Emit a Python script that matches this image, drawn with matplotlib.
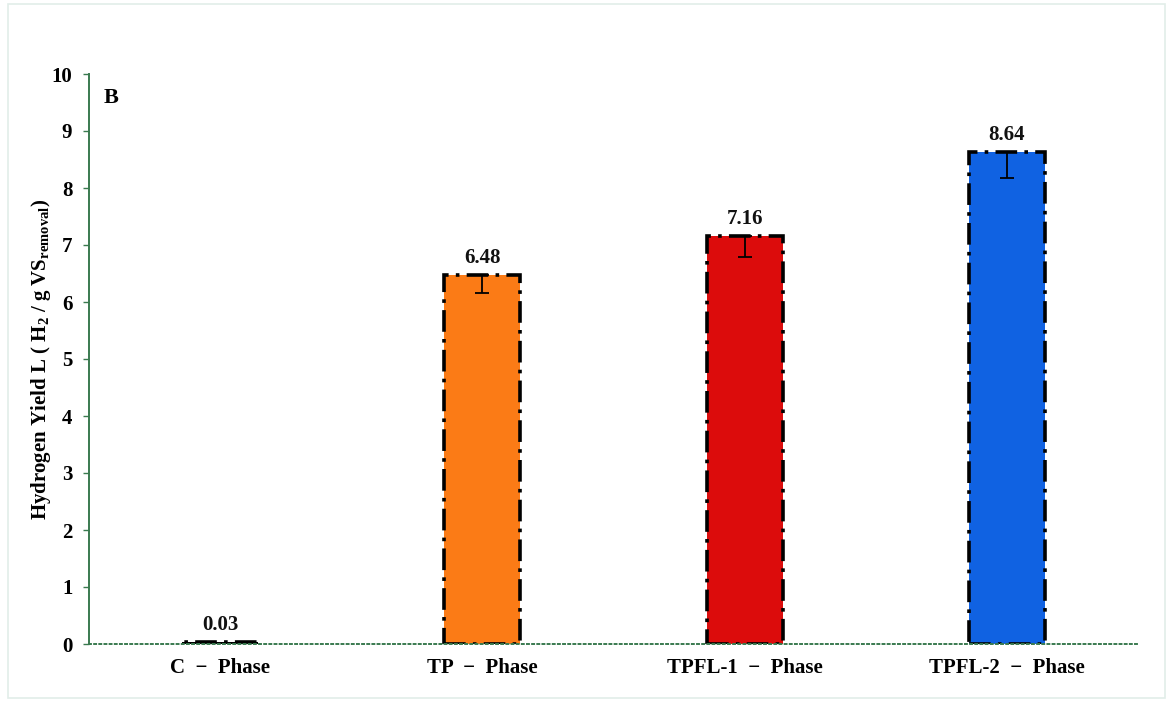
import matplotlib
matplotlib.use('Agg')
import matplotlib.pyplot as plt
from matplotlib.patches import Rectangle

# data
phases = ['C  \u2212  Phase', 'TP  \u2212  Phase', 'TPFL-1  \u2212  Phase', 'TPFL-2  \u2212  Phase']
yields = [0.03, 6.48, 7.16, 8.64]
err_lo = [0.0, 0.32, 0.37, 0.46]
err_hi = [0.0, 0.0, 0.0, 0.0]
colors = ['#000000', '#fb7b16', '#dc0c0c', '#1062e2']

plt.rcParams['font.family'] = ['Liberation Serif', 'DejaVu Serif']
plt.rcParams['font.weight'] = 'bold'
plt.rcParams['mathtext.fontset'] = 'custom'
plt.rcParams['mathtext.rm'] = 'Liberation Serif:bold'
plt.rcParams['mathtext.it'] = 'Liberation Serif:bold'
plt.rcParams['mathtext.bf'] = 'Liberation Serif:bold'

fig = plt.figure(figsize=(11.69, 7.02), dpi=100)
ax = fig.add_axes([89 / 1169, 58 / 702, (1138 - 89) / 1169, (644 - 74) / 702])

# light frame around the whole picture
fig.patches.append(Rectangle((8 / 1169, 4 / 702), (1165 - 8) / 1169, (698 - 4) / 702,
                             transform=fig.transFigure, fill=False,
                             edgecolor='#e2ede9', linewidth=1.2))

x = range(len(phases))
bars = ax.bar(x, yields, width=0.29, color=colors, edgecolor='black',
              linewidth=2.6, linestyle=(0, (6, 2, 1, 2)), zorder=2)
ax.errorbar(x[1:], yields[1:], yerr=[err_lo[1:], err_hi[1:]], fmt='none',
            ecolor='black', elinewidth=1.3, capsize=5, capthick=1.3, zorder=3)

for xi, v in zip(x, yields):
    ax.text(xi, v + 0.12, f'{v:.2f}', ha='center', va='bottom',
            fontsize=15, fontweight='bold', color='#111111')

ax.set_xlim(-0.5, 3.5)
ax.set_ylim(0, 10)
ax.set_yticks(range(0, 11))
ax.set_xticks(list(x))
ax.set_xticklabels(phases, fontsize=15, fontweight='bold')
ax.tick_params(axis='x', length=0, pad=10)
ax.tick_params(axis='y', labelsize=15, length=4, width=1, color='#3a7a50', pad=8)

for s in ['top', 'right']:
    ax.spines[s].set_visible(False)
ax.spines['left'].set_color('#3a7a50')
ax.spines['left'].set_linewidth(1.4)
ax.spines['bottom'].set_color('#3a7a50')
ax.spines['bottom'].set_linestyle(':')
ax.spines['bottom'].set_linewidth(1.4)

ax.set_ylabel('Hydrogen Yield L ( H$_2$ / g VS$_{removal}$)', fontsize=15,
              fontweight='bold', labelpad=-1)
ax.text(0.014, 0.975, 'B', transform=ax.transAxes, fontsize=16,
        fontweight='bold', va='top')

fig.savefig('out.png', dpi=100)
